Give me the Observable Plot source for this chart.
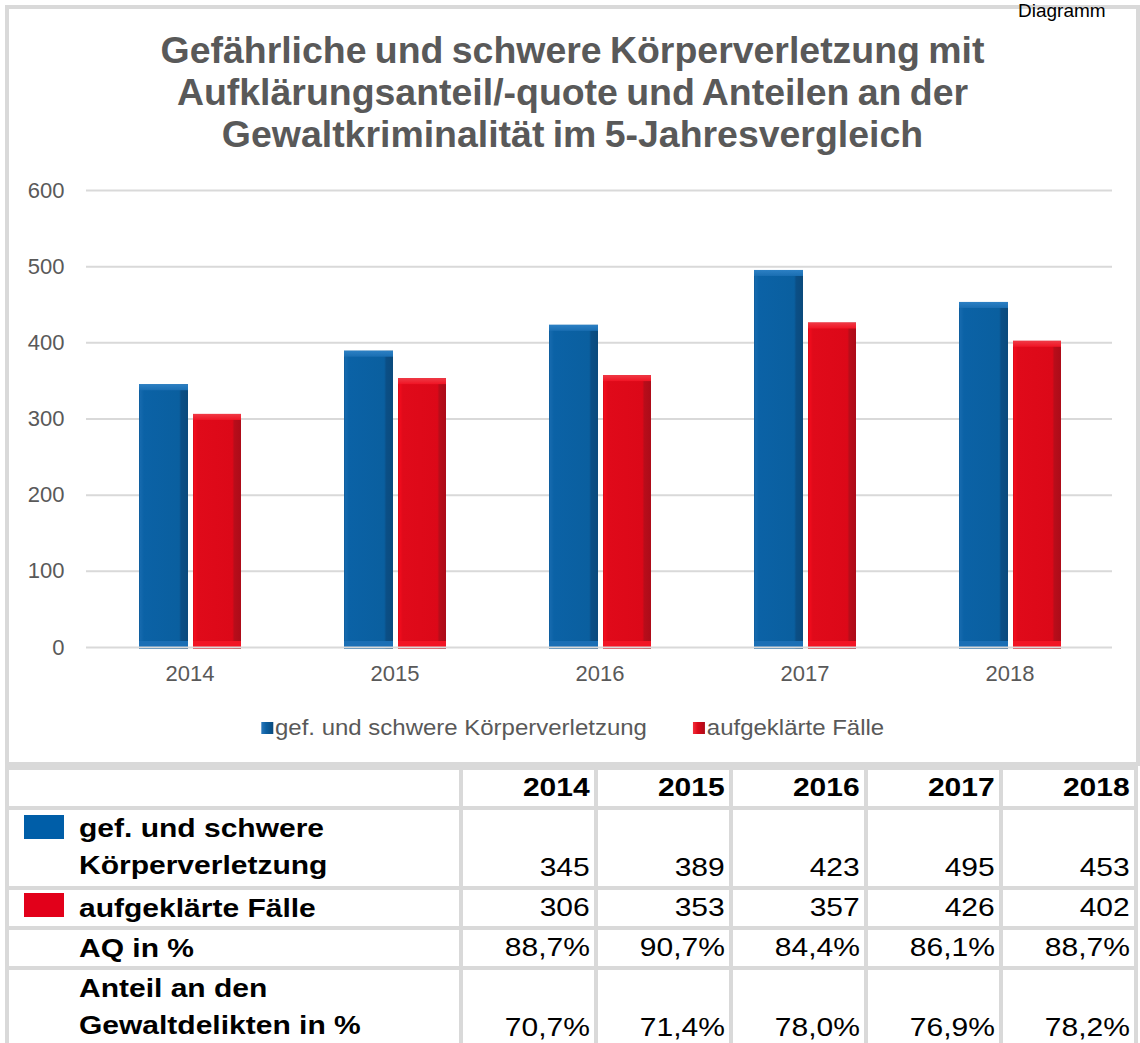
<!DOCTYPE html>
<html>
<head>
<meta charset="utf-8">
<script src="https://cdn.jsdelivr.net/npm/d3@7"></script>
<script src="https://cdn.jsdelivr.net/npm/@observablehq/plot@0.6"></script>
<style>
  html, body { margin: 0; padding: 0; background: #fff; }
  body { width: 1140px; height: 1043px; overflow: hidden; position: relative; font-family: "Liberation Sans", Arial, sans-serif; }
  #topnote { position: absolute; left: 1018px; top: 1px; font-size: 19px; line-height: 19px; color: #000; z-index: 3; white-space: nowrap; }
  #box { position: absolute; left: 5px; top: 5px; width: 1127px; height: 753px; border: 4px solid #d9d9d9; background: #fff; }
  #title { position: absolute; left: 0; top: 21px; width: 1127px; text-align: center; font-weight: bold; font-size: 36px; line-height: 42px; color: #595959; transform: scaleX(1.04); transform-origin: center; word-spacing: -2px; }
  #plot { position: absolute; left: 0; top: 161px; }
  #legend { position: absolute; left: 0; top: 706px; width: 1127px; display: flex; justify-content: center; font-size: 22px; line-height: 26px; color: #595959; transform: scaleX(1.09); transform-origin: center; }
  #legend .item { display: flex; align-items: center; margin: 0 21px; }
  #legend .sw { width: 11px; height: 12px; margin-right: 2px; }
  #table { position: absolute; left: 5px; top: 766px; display: grid; background: #d9d9d9; padding: 4px; gap: 4px;
           grid-template-columns: 450px repeat(5, 131px); grid-template-rows: 36px 76px 36px 36px 76px; }
  #table .cell { background: #fff; position: relative; font-size: 25px; line-height: 37px; color: #000; overflow: hidden; }
  #table .val { display: flex; align-items: flex-end; justify-content: flex-end; padding-right: 4px; }
  #table .hdr { font-weight: bold; }
  #table .lab { font-weight: bold; padding-left: 70px; }
  #table .lab .ln { display: block; }
  .sx { display: inline-block; transform: scaleX(1.2); white-space: nowrap; }
  .sxl { transform-origin: left center; }
  .sxr { transform-origin: right center; }
  #table .sq { position: absolute; left: 15px; width: 40px; height: 24px; }
</style>
</head>
<body>
<div id="topnote">Diagramm</div>
<div id="box">
  <div id="title">Gefährliche und schwere Körperverletzung mit<br>Aufklärungsanteil/-quote und Anteilen an der<br>Gewaltkriminalität im 5-Jahresvergleich</div>
  <div id="plot"></div>
  <div id="legend"></div>
</div>
<div id="table"></div>
<script>
// ---- data ----
const years = ["2014", "2015", "2016", "2017", "2018"];
const koerperverletzung = [345, 389, 423, 495, 453];
const aufgeklaerteFaelle = [306, 353, 357, 426, 402];
const aqProzent = ["88,7%", "90,7%", "84,4%", "86,1%", "88,7%"];
const anteilGewalt = ["70,7%", "71,4%", "78,0%", "76,9%", "78,2%"];
const yTicks = [0, 100, 200, 300, 400, 500, 600];
const seriesNames = ["gef. und schwere Körperverletzung", "aufgeklärte Fälle"];
const seriesColors = ["#0a5fa2", "#dd0818"];
const tableSquareColors = ["#005ea8", "#e2001a"];

const rows = years.map((year, i) => ({ year, kv: koerperverletzung[i], af: aufgeklaerteFaelle[i] }));

// ---- chart ----
const blueInset = { insetLeft: 52, insetRight: 104 };
const redInset = { insetLeft: 106, insetRight: 51 };

const chart = Plot.plot({
  width: 1126,
  height: 540,
  marginLeft: 77,
  marginRight: 23,
  marginTop: 20,
  marginBottom: 63,
  style: { fontFamily: "Liberation Sans, Arial, sans-serif", fontSize: "22px", color: "#595959", background: "transparent", overflow: "visible" },
  x: { domain: years, padding: 0, label: null, tickSize: 0, tickPadding: 18 },
  y: { domain: [0, 600], ticks: yTicks, label: null, tickSize: 0, tickPadding: 22 },
  marks: [
    Plot.ruleY(yTicks.filter(d => d > 0), { stroke: "#d9d9d9", strokeWidth: 2 }),
    // blue bars
    Plot.barY(rows, { x: "year", y: "kv", fill: "url(#gradBlue)", ...blueInset, insetBottom: -2 }),
    Plot.barY(rows, { x: "year", y1: "kv", y2: "kv", fill: "url(#capBlue)", ...blueInset, insetBottom: -6 }),
    Plot.barY(rows, { x: "year", y1: 0, y2: 0, fill: "#1b6fb5", ...blueInset, insetTop: -6 }),
    // red bars
    Plot.barY(rows, { x: "year", y: "af", fill: "url(#gradRed)", ...redInset, insetBottom: -2 }),
    Plot.barY(rows, { x: "year", y1: "af", y2: "af", fill: "url(#capRed)", ...redInset, insetBottom: -6 }),
    Plot.barY(rows, { x: "year", y1: 0, y2: 0, fill: "#f21424", ...redInset, insetTop: -6 }),
    Plot.ruleY([0], { stroke: "#d9d9d9", strokeWidth: 2 })
  ]
});

const ns = "http://www.w3.org/2000/svg";
const defs = document.createElementNS(ns, "defs");
defs.innerHTML = `
  <linearGradient id="gradBlue" x1="0" x2="1" y1="0" y2="0">
    <stop offset="0" stop-color="#0d5a98"/>
    <stop offset="0.03" stop-color="#1569ad"/>
    <stop offset="0.1" stop-color="#0b62a6"/>
    <stop offset="0.82" stop-color="#0a5f9f"/>
    <stop offset="0.86" stop-color="#0b4f86"/>
    <stop offset="1" stop-color="#0b4a7c"/>
  </linearGradient>
  <linearGradient id="capBlue" x1="0" x2="0" y1="0" y2="1">
    <stop offset="0" stop-color="#2c80c4"/>
    <stop offset="1" stop-color="#1a6eb2"/>
  </linearGradient>
  <linearGradient id="gradRed" x1="0" x2="1" y1="0" y2="0">
    <stop offset="0" stop-color="#d00a18"/>
    <stop offset="0.03" stop-color="#f20c1d"/>
    <stop offset="0.1" stop-color="#e00a1a"/>
    <stop offset="0.82" stop-color="#dc0818"/>
    <stop offset="0.86" stop-color="#b80d1a"/>
    <stop offset="1" stop-color="#ac0b18"/>
  </linearGradient>
  <linearGradient id="capRed" x1="0" x2="0" y1="0" y2="1">
    <stop offset="0" stop-color="#ef3a46"/>
    <stop offset="1" stop-color="#f01424"/>
  </linearGradient>`;
chart.insertBefore(defs, chart.firstChild);
document.getElementById("plot").appendChild(chart);

// ---- legend ----
const legend = document.getElementById("legend");
const legendGrad = ["linear-gradient(90deg,#2a78bb,#0b5fa2 40%,#0b4a7c)", "linear-gradient(90deg,#f2303c,#dd0818 40%,#ac0b18)"];
seriesNames.forEach((name, i) => {
  const it = document.createElement("div");
  it.className = "item";
  it.innerHTML = `<span class="sw" style="background:${legendGrad[i]}"></span><span>${name}</span>`;
  legend.appendChild(it);
});

// ---- table ----
const table = document.getElementById("table");
function cell(cls, html) {
  const c = document.createElement("div");
  c.className = "cell " + cls;
  c.innerHTML = html;
  table.appendChild(c);
  return c;
}
const R = s => `<span class="sx sxr">${s}</span>`;
const L = s => `<span class="sx sxl ln">${s}</span>`;

cell("", "");
years.forEach(y => cell("val hdr", R(y)));

let c = cell("lab", L("gef. und schwere") + L("Körperverletzung"));
c.insertAdjacentHTML("afterbegin", `<span class="sq" style="top:5px;background:${tableSquareColors[0]}"></span>`);
koerperverletzung.forEach(v => cell("val", R(v)));

c = cell("lab", L("aufgeklärte Fälle"));
c.insertAdjacentHTML("afterbegin", `<span class="sq" style="top:3px;background:${tableSquareColors[1]}"></span>`);
aufgeklaerteFaelle.forEach(v => cell("val", R(v)));

cell("lab", L("AQ in %"));
aqProzent.forEach(v => cell("val", R(v)));

cell("lab", L("Anteil an den") + L("Gewaltdelikten in %"));
anteilGewalt.forEach(v => cell("val", R(v)));
</script>
</body>
</html>
